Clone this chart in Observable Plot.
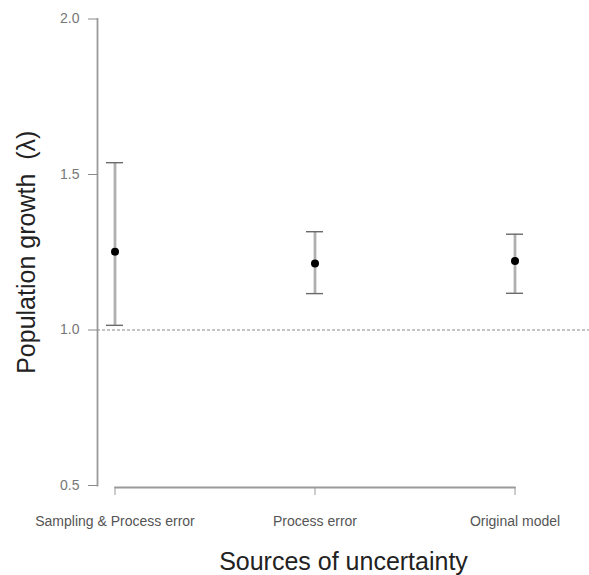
<!DOCTYPE html>
<html>
<head>
<meta charset="utf-8">
<script src="https://cdn.jsdelivr.net/npm/d3@7"></script>
<script src="https://cdn.jsdelivr.net/npm/@observablehq/plot@0.6"></script>
<style>
  html, body { margin: 0; padding: 0; background: #fff; }
  svg text { white-space: pre; }
</style>
</head>
<body>
<div id="chart"></div>
<script>
const categories = ["Sampling & Process error", "Process error", "Original model"];
const means = [1.252, 1.214, 1.222];
const lower = [1.015, 1.117, 1.118];
const upper = [1.538, 1.316, 1.308];
const yTicks = [0.5, 1.0, 1.5, 2.0];
const refLine = [1.0];
const xTitle = "Sources of uncertainty";
const yTitle = "Population growth  (\u03bb)";

const data = categories.map((c, i) => ({cat: c, mean: means[i], lo: lower[i], hi: upper[i]}));
const yMin = yTicks[0];

const chart = Plot.plot({
  width: 589,
  height: 575,
  marginLeft: 97,
  marginRight: 0,
  marginTop: 18.5,
  marginBottom: 90,
  style: {fontFamily: "'Liberation Sans', Arial, sans-serif", background: "#fff"},
  x: {type: "band", domain: categories, range: [105.5, 523.5], paddingInner: 0.9152, paddingOuter: 0},
  y: {domain: [0.5, 2.0]},
  marks: [
    Plot.frame({anchor: "left", stroke: "#9a9a9a", strokeWidth: 1.8}),
    Plot.line(data, {x: "cat", y: () => yMin, dy: 2, stroke: "#9a9a9a", strokeWidth: 1.8}),
    Plot.axisY({ticks: yTicks, tickFormat: d3.format(".1f"), tickSize: 9, tickPadding: 9, fontSize: 14, stroke: "#8a8a8a", fill: "#777", label: null}),
    Plot.axisX({tickSize: 8, tickPadding: 21, dy: 2, fontSize: 14, stroke: "#9a9a9a", fill: "#555", label: null}),
    Plot.ruleY(refLine, {stroke: "#8a8a8a", strokeWidth: 1.2, strokeDasharray: "3,2"}),
    Plot.ruleX(data, {x: "cat", y1: "lo", y2: "hi", stroke: "#b0b0b0", strokeWidth: 2.8}),
    Plot.tickY(data, {x: "cat", y: "lo", stroke: "#6a6a6a", strokeWidth: 1.4}),
    Plot.tickY(data, {x: "cat", y: "hi", stroke: "#6a6a6a", strokeWidth: 1.4}),
    Plot.dot(data, {x: "cat", y: "mean", r: 4, fill: "#000", stroke: null}),
    Plot.text([xTitle], {text: d => d, frameAnchor: "bottom", dy: 76.5, lineAnchor: "middle", textAnchor: "middle", fontSize: 25, fill: "#222"}),
    Plot.text([yTitle], {text: d => d, frameAnchor: "left", dx: -71, rotate: -90, lineAnchor: "middle", textAnchor: "middle", fontSize: 25, fill: "#222"})
  ]
});
document.getElementById("chart").appendChild(chart);
</script>
</body>
</html>
